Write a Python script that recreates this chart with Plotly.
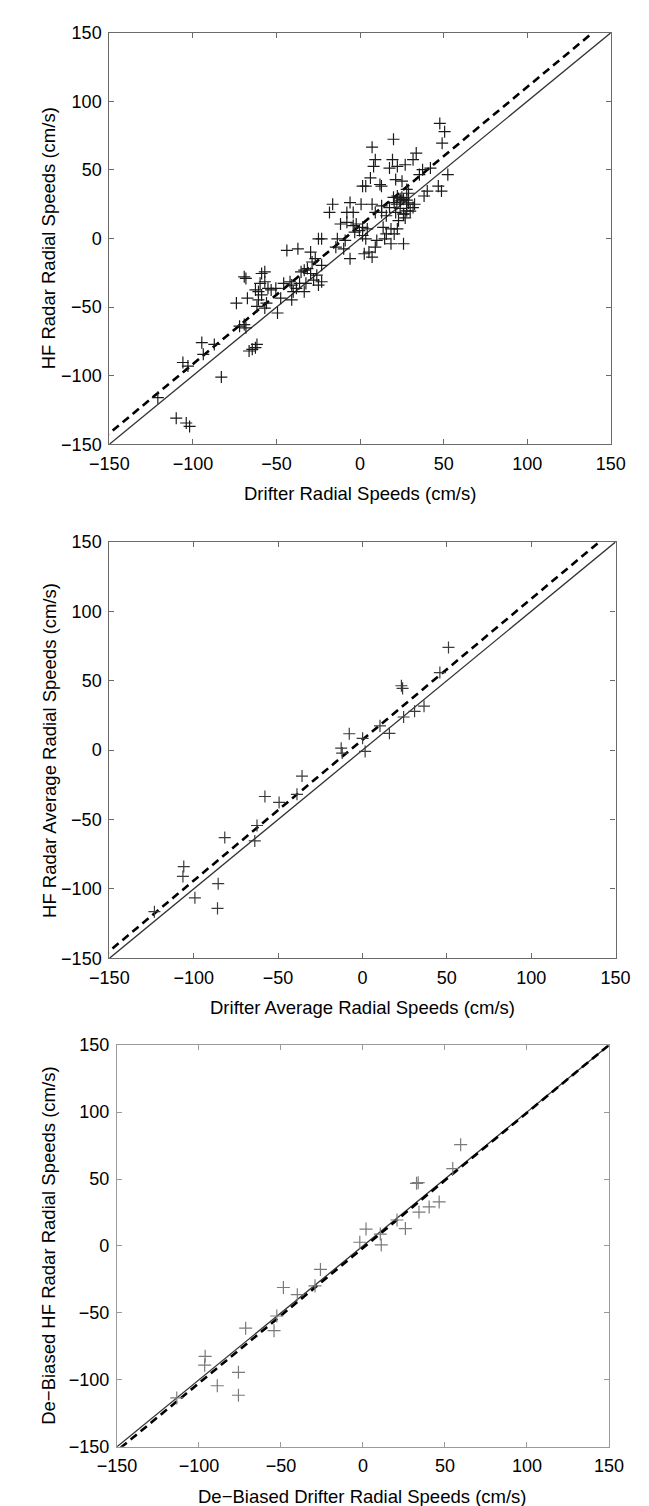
import plotly.graph_objects as go

# ---------------- data ----------------
# Panel 1: drifter vs HF radar radial speeds (cm/s)
p1_x = [47.7, 50.6, 49.1, 20.0, 7.2, 33.6, 9.1, 19.4, 31.7, 8.1, 17.6, 22.3, 27.0, 37.4, 42.1,
        35.5, 52.5, 6.2, 3.4, 1.5, 11.9, 12.8, 21.3, 25.1, 46.8, 48.7, 38.3, 40.2, 27.9, 22.3,
        24.1, 26.0, 20.4, 27.9, 32.6, -16.4, -18.3, -6.0, 0.6, 7.2, 12.9, 17.6, -7.9, -4.1, 9.1,
        12.9, 21.3, 26.0, 27.9, 31.7, 15.7, -7.9, -4.1, -2.3, -11.7, -0.4, -3.2, 4.3, 1.5, 13.8,
        18.5, 22.3, 15.7, 20.4, 1.5, 3.4, 10.0, 14.7, 18.5, 26.0, 9.1, 5.3, 2.5, 7.2, -23.0,
        -24.9, -13.6, -8.9, -14.5, -9.8, -6.0, -43.8, -37.2, -29.6, -28.7, -26.8, -23.0, -31.5, -33.4, -35.3,
        -29.6, -25.9, -27.8, -23.0, -32.4, -24.9, -36.2, -40.9, -41.9, -45.7, -55.1, -53.2, -50.4, -57.0, -58.9,
        -68.3, -69.3, -57.0, -59.8, -58.9, -60.8, -62.6, -40.0, -40.9, -33.4, -47.5, -38.1, -74.0, -67.4, -60.8,
        -61.7, -56.0, -57.0, -49.4, -72.1, -69.3, -68.3, -94.7, -87.2, -93.8, -66.4, -64.5, -62.6, -61.7, -106.0,
        -121.0, -103.0, -83.0, -110.0, -104.0, -102.0,
        25.0, 28.0, 22.0, 30.0, 24.0, 27.0, 20.0, 29.0, 26.0, 23.0, 29.0, 24.0]
p1_y = [83.9, 77.9, 69.5, 72.4, 66.6, 62.3, 57.5, 57.5, 57.5, 52.6, 51.4, 52.6, 53.8, 50.2, 51.4,
        46.6, 46.6, 44.2, 38.2, 38.2, 39.4, 38.2, 43.0, 41.8, 38.2, 34.6, 31.0, 34.6, 35.8, 31.0,
        27.4, 28.6, 26.2, 25.0, 25.0, 25.0, 19.0, 26.2, 25.0, 25.0, 23.8, 22.6, 19.0, 19.0, 19.0,
        19.0, 19.0, 17.8, 20.2, 22.6, 16.6, 11.8, 9.4, 10.6, 10.6, 5.8, 4.6, 7.0, 8.2, 8.2,
        7.0, 7.0, 3.4, 3.4, 2.2, -0.2, -1.4, -0.2, -3.8, -3.8, -6.3, -9.9, -11.1, -13.5, -0.2,
        -0.2, -0.2, -1.4, -6.3, -7.5, -14.7, -8.7, -7.5, -9.9, -17.1, -14.7, -19.5, -21.9, -23.1, -24.3,
        -25.5, -26.7, -30.3, -31.5, -32.7, -33.9, -32.7, -33.9, -31.5, -32.7, -36.3, -37.5, -36.3, -24.3, -25.5,
        -29.1, -27.9, -31.5, -32.7, -41.1, -38.7, -37.5, -38.7, -44.7, -38.7, -43.5, -36.3, -47.1, -43.5, -44.7,
        -49.5, -47.1, -50.7, -54.3, -63.9, -62.7, -65.1, -75.9, -77.2, -84.4, -82.0, -80.8, -79.6, -77.2, -90.4,
        -116.0, -93.0, -101.0, -131.0, -134.5, -137.0,
        30.0, 28.0, 25.0, 20.0, 22.0, 15.0, 30.0, 33.0, 18.0, 13.0, 26.0, 29.0]

# Panel 2: averaged radial speeds
p2_x = [51.0, 45.9, 23.1, 23.8, 36.5, 30.9, 24.4, 16.0, 10.4, 0.1, 1.6, -7.8, -12.6, -12.0,
        -35.8, -38.8, -57.8, -49.4, -62.5, -63.8, -81.6, -105.9, -106.4, -99.3, -85.5, -85.9, -123.3]
p2_y = [74.0, 55.9, 46.4, 44.5, 31.7, 28.0, 23.9, 12.1, 17.5, 8.5, -0.9, 11.8, 1.4, -2.1,
        -18.7, -31.8, -33.4, -37.7, -54.3, -65.4, -63.0, -83.9, -91.0, -106.4, -96.2, -114.0, -116.4]

# Panel 3: de-biased radial speeds
p3_x = [59.6, 54.8, 32.7, 33.7, 46.5, 40.4, 34.2, 20.8, 25.9, 1.9, -1.9, 10.6, 11.2, -25.9,
        -29.2, -40.0, -48.5, -52.5, -54.2, -71.5, -96.2, -96.5, -75.9, -88.8, -75.9, -113.5]
p3_y = [75.7, 57.8, 46.8, 47.3, 32.9, 29.2, 25.3, 19.4, 13.0, 12.6, 2.8, 8.9, 0.8, -17.5,
        -29.8, -36.4, -31.0, -52.3, -63.3, -61.4, -82.4, -89.0, -94.4, -104.4, -111.5, -113.5]

# regression (dashed) lines: slope, intercept per panel
fit_slope = [1.01, 1.015, 1.01]
fit_intercept = [9.5, 7.5, -1.5]

axis_range = [-150, 150]
tick_vals = [-150, -100, -50, 0, 50, 100, 150]
x_titles = ["Drifter Radial Speeds (cm/s)",
            "Drifter Average Radial Speeds (cm/s)",
            "De\u2212Biased Drifter Radial Speeds (cm/s)"]
y_titles = ["HF Radar Radial Speeds (cm/s)",
            "HF Radar Average Radial Speeds (cm/s)",
            "De\u2212Biased HF Radar Radial Speeds (cm/s)"]

# ---------------- layout geometry ----------------
W, H = 649, 1506
# pixel boxes (left, right, top, bottom)
boxes = [(86, 616, 15, 432), (86, 621, 531, 953), (94, 614, 1041, 1448)]
marker_colors = ["#1a1a1a", "#3a3a3a", "#7a7a7a"]
marker_sizes = [8.6, 8.6, 9.3]
axis_colors = ["#6a6a6a", "#6a6a6a", "#9a9a9a"]
font_family = "Liberation Sans, Arial, Helvetica, sans-serif"

fig = go.Figure()
pts = [(p1_x, p1_y), (p2_x, p2_y), (p3_x, p3_y)]
line_x = [axis_range[0] - 10, axis_range[1] + 10]

for i, (px, py) in enumerate(pts):
    xa = "x" if i == 0 else f"x{i+1}"
    ya = "y" if i == 0 else f"y{i+1}"
    # 1:1 line
    fig.add_trace(go.Scatter(x=line_x, y=line_x, mode="lines", xaxis=xa, yaxis=ya,
                             line=dict(color="#333333", width=1.3), showlegend=False,
                             hoverinfo="skip"))
    # dashed regression line
    fy = [fit_slope[i] * v + fit_intercept[i] for v in line_x]
    fig.add_trace(go.Scatter(x=line_x, y=fy, mode="lines", xaxis=xa, yaxis=ya,
                             line=dict(color="#000000", width=2.6, dash="8px,5px"),
                             showlegend=False, hoverinfo="skip"))
    # data points
    fig.add_trace(go.Scatter(x=px, y=py, mode="markers", xaxis=xa, yaxis=ya,
                             marker=dict(symbol="cross-thin", size=marker_sizes[i],
                                         line=dict(color=marker_colors[i], width=1.2)),
                             showlegend=False))

layout = dict(width=W, height=H, margin=dict(l=0, r=0, t=0, b=0),
              paper_bgcolor="white", plot_bgcolor="white",
              font=dict(family=font_family, size=18, color="black"),
              annotations=[])

for i, (l, r, t, b) in enumerate(boxes):
    xk = "xaxis" if i == 0 else f"xaxis{i+1}"
    yk = "yaxis" if i == 0 else f"yaxis{i+1}"
    ya = "y" if i == 0 else f"y{i+1}"
    xa = "x" if i == 0 else f"x{i+1}"
    common = dict(range=axis_range, tickvals=tick_vals, ticks="inside", ticklen=5,
                  tickcolor=axis_colors[i], tickwidth=1, showgrid=False, zeroline=False,
                  showline=True, linecolor=axis_colors[i], linewidth=1.2, mirror="ticks",
                  tickfont=dict(size=18, color="black"), ticklabelstandoff=3)
    layout[xk] = dict(common, domain=[l / W, r / W], anchor=ya)
    layout[yk] = dict(common, domain=[1 - b / H, 1 - t / H], anchor=xa)
    # axis titles
    layout["annotations"].append(dict(text=x_titles[i], xref="paper", yref="paper",
                                      x=(l + r) / 2 / W, y=1 - (b + 50) / H,
                                      xanchor="center", yanchor="middle", showarrow=False,
                                      font=dict(size=18.5)))
    layout["annotations"].append(dict(text=y_titles[i], xref="paper", yref="paper",
                                      x=22 / W, y=1 - (t + b) / 2 / H, textangle=-90,
                                      xanchor="center", yanchor="middle", showarrow=False,
                                      font=dict(size=18.5)))

fig.update_layout(**layout)
fig.write_html("out.html")
